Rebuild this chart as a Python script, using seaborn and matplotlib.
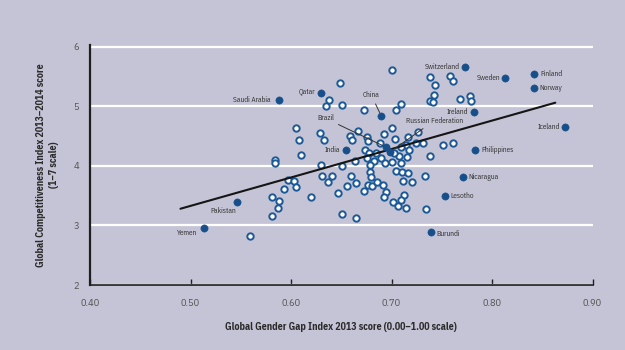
import matplotlib
matplotlib.use("Agg")
import matplotlib.pyplot as plt
import pandas as pd
import seaborn as sns

# Highlighted economies: Global Gender Gap Index 2013 and GCI 2013-2014 scores
countries = ["Switzerland", "Sweden", "Finland", "Norway", "Saudi Arabia", "Qatar",
             "China", "Ireland", "Iceland", "Brazil", "Russian Federation", "India",
             "Philippines", "Nicaragua", "Lesotho", "Burundi", "Pakistan", "Yemen"]
country_gggi = [0.773, 0.813, 0.842, 0.842, 0.588, 0.630,
                0.690, 0.782, 0.873, 0.695, 0.699, 0.655,
                0.783, 0.771, 0.753, 0.739, 0.546, 0.513]
country_gci = [5.66, 5.47, 5.54, 5.31, 5.10, 5.23,
               4.83, 4.91, 4.65, 4.31, 4.24, 4.26,
               4.26, 3.82, 3.49, 2.89, 3.39, 2.95]

# Remaining economies
other_gggi = [0.700, 0.649, 0.738, 0.758, 0.761, 0.743, 0.742, 0.738, 0.741, 0.768,
              0.778, 0.779, 0.638, 0.635, 0.651, 0.673, 0.704, 0.709, 0.700,
              0.605, 0.608, 0.629, 0.633, 0.659, 0.661, 0.667, 0.676, 0.677, 0.693,
              0.703, 0.716, 0.726, 0.724, 0.731, 0.751, 0.761, 0.689, 0.714,
              0.610, 0.584, 0.584, 0.630, 0.651, 0.674, 0.678, 0.685, 0.676, 0.683,
              0.690, 0.694, 0.700, 0.707, 0.709, 0.715, 0.717, 0.702, 0.664, 0.679,
              0.738, 0.709,
              0.679, 0.680, 0.660, 0.704, 0.710, 0.716, 0.711, 0.720, 0.733, 0.647,
              0.656, 0.665, 0.673, 0.677, 0.681, 0.686, 0.692, 0.695, 0.693, 0.712,
              0.701, 0.709, 0.706, 0.714, 0.734, 0.651, 0.665, 0.597, 0.603, 0.605,
              0.593, 0.631, 0.641, 0.637, 0.620, 0.581, 0.588, 0.587, 0.581, 0.559]
other_gci = [5.61, 5.39, 5.49, 5.51, 5.42, 5.36, 5.19, 5.09, 5.07, 5.13,
             5.17, 5.09, 5.10, 5.01, 5.02, 4.94, 4.94, 5.04, 4.64,
             4.63, 4.43, 4.55, 4.44, 4.50, 4.43, 4.59, 4.48, 4.41, 4.53,
             4.45, 4.48, 4.56, 4.39, 4.39, 4.35, 4.38, 4.39, 4.35,
             4.18, 4.10, 4.05, 4.02, 3.99, 4.27, 4.22, 4.22, 4.13, 4.08,
             4.13, 4.05, 4.07, 4.16, 4.04, 4.15, 4.27, 4.22, 4.08, 4.01,
             4.16, 4.31,
             3.90, 3.82, 3.83, 3.91, 3.90, 3.88, 3.75, 3.73, 3.83, 3.55,
             3.66, 3.71, 3.58, 3.68, 3.67, 3.73, 3.68, 3.56, 3.48, 3.51,
             3.40, 3.43, 3.33, 3.30, 3.27, 3.19, 3.12, 3.77, 3.75, 3.64,
             3.61, 3.83, 3.83, 3.73, 3.47, 3.47, 3.41, 3.30, 3.16, 2.82]

# Fitted linear trend, drawn between its two ends
trend_gggi = [0.490, 0.863]
trend_gci = [3.28, 5.06]

x_ticks = [0.40, 0.50, 0.60, 0.70, 0.80, 0.90]
y_ticks = [2, 3, 4, 5, 6]

x_title = "Global Gender Gap Index 2013 score (0.00\u20131.00 scale)"
y_title = "Global Competitiveness Index 2013\u20132014 score\n(1\u20137 scale)"

# Label placement (pixel offsets from the point, alignment, leader line)
label_layout = {
    "Switzerland": (-5, 0, "right", "center", False),
    "Sweden": (-5, 0, "right", "center", False),
    "Finland": (6, 0, "left", "center", False),
    "Norway": (5, 0, "left", "center", False),
    "Saudi Arabia": (-8, 0, "right", "center", False),
    "Qatar": (-6, 1, "right", "center", False),
    "China": (-10, 21, "center", "center", True),
    "Ireland": (-6, 0, "right", "center", False),
    "Iceland": (-5, 0, "right", "center", False),
    "Brazil": (-61, 29, "center", "center", True),
    "Russian Federation": (44, 31, "center", "center", True),
    "India": (-6, 0, "right", "center", False),
    "Philippines": (6, 0, "left", "center", False),
    "Nicaragua": (6, 0, "left", "center", False),
    "Lesotho": (6, 0, "left", "center", False),
    "Burundi": (6, -2, "left", "center", False),
    "Pakistan": (-13, -9, "center", "center", False),
    "Yemen": (-16, -5, "center", "center", False),
}

bg = "#c5c4d6"
navy = "#174f8b"
edge_blue = "#1c5996"
ink = "#2b2b2b"

sns.set_theme(style="white", rc={"axes.facecolor": bg, "figure.facecolor": bg})
plt.rcParams["font.family"] = ["IBM Plex Sans Condensed", "DejaVu Sans"]

fig = plt.figure(figsize=(6.25, 3.5), dpi=100)
ax = fig.add_axes([0.144, 0.1857, 0.804, 0.6860])

others = pd.DataFrame({"gggi": other_gggi, "gci": other_gci})
named = pd.DataFrame({"country": countries, "gggi": country_gggi, "gci": country_gci})
trend = pd.DataFrame({"gggi": trend_gggi, "gci": trend_gci})

sns.scatterplot(data=others, x="gggi", y="gci", ax=ax, s=21, color="white",
                edgecolor=edge_blue, linewidth=1.4, zorder=3, legend=False)
sns.lineplot(data=trend, x="gggi", y="gci", ax=ax, color="#151515", lw=1.5,
             zorder=4, legend=False)
sns.scatterplot(data=named, x="gggi", y="gci", ax=ax, s=27, color=navy,
                edgecolor=navy, linewidth=0.4, zorder=5, legend=False)

for name, gx, gy in zip(countries, country_gggi, country_gci):
    dx, dy, ha, va, leader = label_layout[name]
    kw = {}
    if leader:
        kw["arrowprops"] = dict(arrowstyle="-", color="#333333", lw=0.7,
                                shrinkA=1, shrinkB=3)
    ax.annotate(name, (gx, gy), xytext=(dx, dy), textcoords="offset pixels",
                ha=ha, va=va, fontsize=5.3, color="#303030", zorder=6, **kw)

ax.set_xlim(x_ticks[0], x_ticks[-1])
ax.set_ylim(y_ticks[0], 6.03)
ax.set_xticks(x_ticks)
ax.set_xticklabels([f"{t:.2f}" for t in x_ticks])
ax.set_yticks(y_ticks)
ax.set_yticklabels([str(t) for t in y_ticks])

ax.yaxis.grid(True, color="white", lw=1.6)
ax.xaxis.grid(False)
ax.set_axisbelow(True)

for side in ("top", "right"):
    ax.spines[side].set_visible(False)
for side in ("left", "bottom"):
    ax.spines[side].set_color("#1e1e1e")
ax.spines["left"].set_linewidth(1.6)
ax.spines["bottom"].set_linewidth(1.2)

ax.tick_params(axis="x", direction="in", length=4, width=1.0, color="#1e1e1e",
               pad=10, labelsize=7.5, labelcolor="#555555", bottom=True)
ax.tick_params(axis="y", length=0, pad=8, labelsize=7.5, labelcolor="#555555")

ax.set_xlabel(x_title, fontsize=7.2, fontweight="bold", color=ink, labelpad=10)
ax.set_ylabel(y_title, fontsize=7.2, fontweight="bold", color=ink, labelpad=10,
              linespacing=1.35)

fig.savefig("out.png", dpi=100, facecolor=bg)
